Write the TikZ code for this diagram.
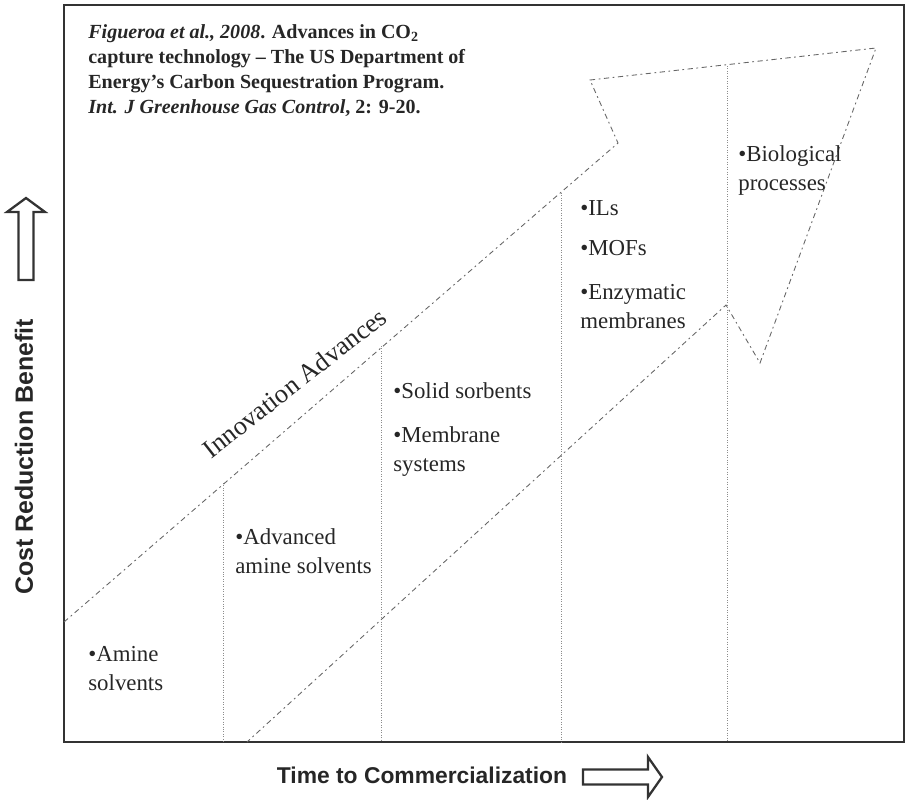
\documentclass[tikz,border=0pt]{standalone}
\usepackage{fontspec}
\setmainfont{Liberation Serif}
\newfontfamily\axisfont{Liberation Sans}

\begin{document}
\begin{tikzpicture}[x=0.02cm,y=-0.02cm,
    every node/.style={inner sep=0pt,text=black!85},
    item/.style={anchor=base west,align=left,font=\fontsize{13}{16}\selectfont},
    cite/.style={anchor=base west,align=left,font=\bfseries\fontsize{11.4}{14.2}\selectfont},
    axis/.style={font=\axisfont\bfseries\fontsize{13}{15}\selectfont},
    frame/.style={draw=black!80,line width=1.6pt},
    stage/.style={draw=black!45,densely dotted,line width=0.4pt},
    trend/.style={draw=black!60,line width=0.5pt,dash pattern=on 3pt off 2pt on 1pt off 2pt},
    blockarrow/.style={draw=black!80,line width=1.3pt,fill=white}]
  \useasboundingbox (0,0) rectangle (906,799);
  \draw[frame] (64,5) rectangle (904,742);

  % stages
  \foreach \x/\y in {223/483,381/346,561/193,727/66}
    \draw[stage] (\x,\y) -- (\x,742);

  % innovation arrow
  \coordinate (upstart) at (64,622);
  \coordinate (upnotch) at (618,143);
  \coordinate (headtop) at (590,80);
  \coordinate (tip) at (876,48);
  \coordinate (headbot) at (760,363);
  \coordinate (lownotch) at (726,305);
  \coordinate (lowstart) at (247,742);
  \draw[trend] (upstart) -- (upnotch) -- (headtop) -- (tip) -- (headbot)
    -- (lownotch) -- (lowstart);
  \node[rotate=38,anchor=base,font=\fontsize{15}{18}\selectfont] (innov) at (300,390) {Innovation Advances};

  % base anchor = last line
  \node[cite] (ref) at (88,113) {\textit{Figueroa et al., 2008}. Advances in CO\textsubscript{2}\\
    capture technology -- The US Department of\\
    Energy’s Carbon Sequestration Program.\\
    \textit{Int. J Greenhouse Gas Control}, 2: 9-20.};

  \node[item] (amine) at (88,690) {•Amine\\solvents};
  \node[item] (advanced) at (235,573) {•Advanced\\amine solvents};
  \node[item] (solid) at (393,398) {•Solid sorbents};
  \node[item] (membrane) at (393,471) {•Membrane\\systems};
  \node[item] (ils) at (580,215) {•ILs};
  \node[item] (mofs) at (580,255) {•MOFs};
  \node[item] (enzyme) at (580,328) {•Enzymatic\\membranes};
  \node[item] (bio) at (738,190) {•Biological\\processes};

  % axes
  \node[axis,rotate=90,font=\axisfont\bfseries\fontsize{14.2}{16}\selectfont] (costlabel) at (24,457) {Cost Reduction Benefit};
  \node[axis] (timelabel) at (422,775) {Time to Commercialization};
  \draw[blockarrow] (18.5,280) -- (18.5,212) -- (7,212) -- (26,198) -- (45,212)
    -- (33.5,212) -- (33.5,280) -- cycle;
  \draw[blockarrow] (583,769.5) -- (648,769.5) -- (648,757) -- (662,777) -- (648,797)
    -- (648,784.5) -- (583,784.5) -- cycle;
\end{tikzpicture}
\end{document}
